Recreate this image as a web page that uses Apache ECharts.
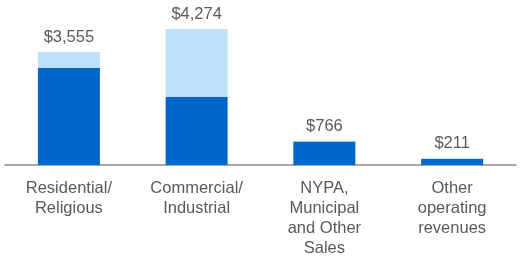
<!DOCTYPE html>
<html>
<head>
	<meta charset="utf-8" />
	<title>Revenues</title>
	<script src="https://cdn.jsdelivr.net/npm/echarts@6/dist/echarts.min.js"></script>
	<style>
		html, body { margin: 0; padding: 0; background: #fff; }
	</style>
</head>
<body>
	<div id="main" style="width: 525px;height: 262px;"></div>

	<script type="text/javascript">
		var categories = ['Residential/\nReligious', 'Commercial/\nIndustrial', 'NYPA,\nMunicipal\nand Other\nSales', 'Other\noperating\nrevenues'];
		var darkPart = [3050, 2140, 736, 186];
		var lightPart = [505, 2134, 30, 25];
		var totalLabels = ['$3,555', '$4,274', '$766', '$211'];

		var myChart = echarts.init(document.getElementById("main"));

		var option = {
			animation: false,
			grid: { left: 5, right: 9, top: 0, bottom: 97 },
			xAxis: {
				type: 'category',
				data: categories,
				axisLine: { lineStyle: { color: '#8a8a8a', width: 1.5 } },
				axisTick: { show: false },
				axisLabel: {
					color: '#595959',
					fontSize: 16.5,
					lineHeight: 20,
					margin: 13,
					fontFamily: 'Liberation Sans, Arial, sans-serif'
				}
			},
			yAxis: {
				type: 'value',
				min: 0,
				max: 5190,
				show: false
			},
			series: [
				{
					type: 'bar',
					stack: 'rev',
					barWidth: 62,
					itemStyle: { color: '#0066cc' },
					data: darkPart
				},
				{
					type: 'bar',
					stack: 'rev',
					barWidth: 62,
					itemStyle: { color: '#bde0fb' },
					label: {
						show: true,
						position: 'top',
						distance: 6,
						color: '#595959',
						fontSize: 16.5,
						fontFamily: 'Liberation Sans, Arial, sans-serif',
						formatter: function (p) { return totalLabels[p.dataIndex]; }
					},
					data: lightPart
				}
			]
		};

		myChart.setOption(option);
	</script>
</body>
</html>
